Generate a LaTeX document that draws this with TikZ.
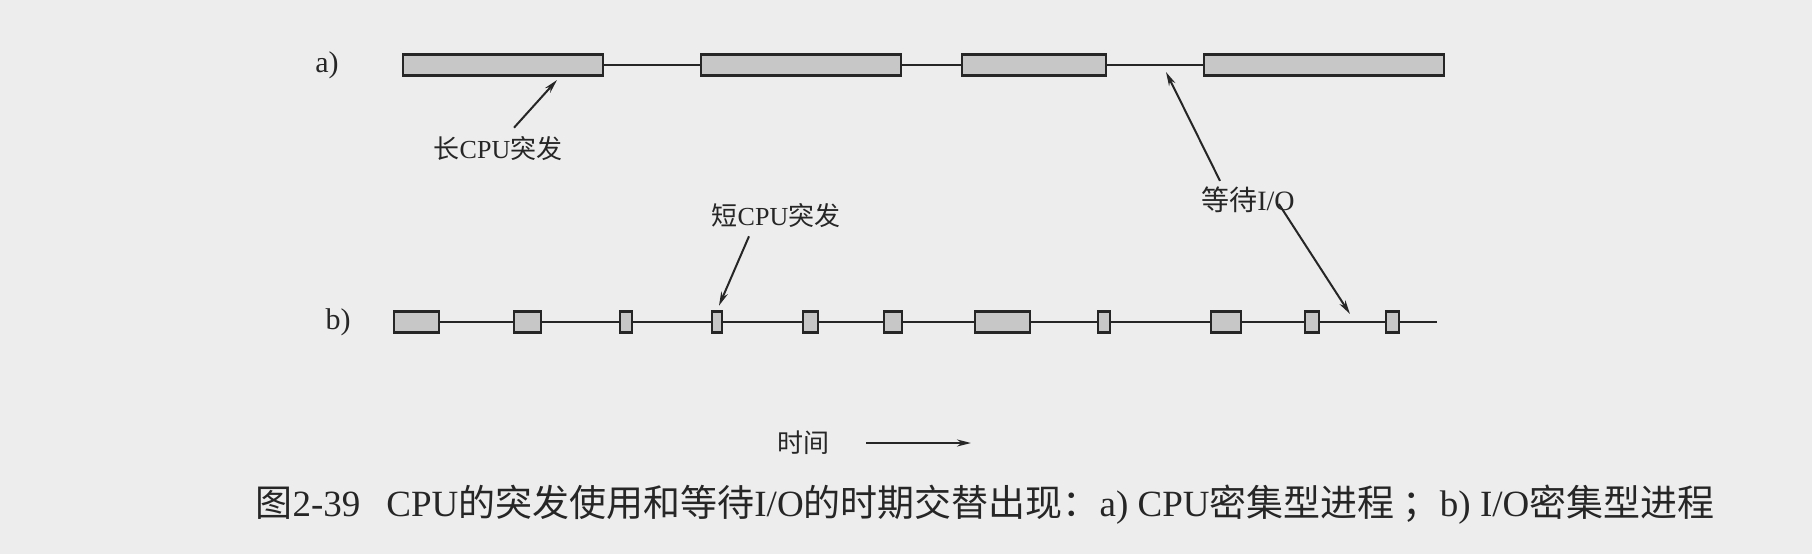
\documentclass[tikz,border=0pt]{standalone}
\usepackage{fontspec}
\setmainfont{Liberation Serif}
\newfontfamily\cjk{Noto Sans CJK SC}
\usetikzlibrary{arrows.meta}
\definecolor{paper}{gray}{0.93}
\definecolor{ink}{gray}{0.15}
\definecolor{burst}{gray}{0.78}

\begin{document}
\begin{tikzpicture}[x=1pt,y=-1pt,
    cpu/.style={draw=ink,fill=burst,line width=2.4pt,minimum height=21pt,inner sep=0pt},
    wire/.style={draw=ink,line width=2pt},
    ptr/.style={draw=ink,line width=2pt,-{Stealth[length=14pt,width=7pt]}},
    lbl/.style={text=ink,font=\fontsize{26}{30}\selectfont,inner sep=0pt}]
    \fill[paper] (0,0) rectangle (1812,554);
    \useasboundingbox (0,0) rectangle (1812,554);
    \node[lbl,font=\fontsize{30}{34}\selectfont] (la) at (327,65) {a)};
    \node[lbl,font=\fontsize{30}{34}\selectfont] (lb) at (338,322) {b)};
    \foreach \n/\l/\r in {1/403/603,2/701/901,3/962/1106,4/1204/1444}
        \node[cpu,minimum width={(\r-\l)*1pt}] (a\n) at ({(\l+\r)/2},65) {};
    \foreach \i/\j in {1/2,2/3,3/4}
        \draw[wire] (a\i) -- (a\j);
    \foreach \n/\l/\r in {1/394/439,2/514/541,3/620/632,4/712/722,5/803/818,6/884/902,
                          7/975/1030,8/1098/1110,9/1211/1241,10/1305/1319,11/1386/1399}
        \node[cpu,minimum width={(\r-\l)*1pt}] (b\n) at ({(\l+\r)/2},322) {};
    \foreach \i [evaluate=\i as \j using int(\i+1)] in {1,...,10}
        \draw[wire] (b\i) -- (b\j);
    \coordinate (bend) at (1437,322);
    \draw[wire] (b11) -- (bend);
    \node[lbl] (long) at (498,149) {{\cjk 长}CPU{\cjk 突发}};
    \node[lbl] (short) at (776,216) {{\cjk 短}CPU{\cjk 突发}};
    \node[lbl,font=\fontsize{28}{32}\selectfont] (wait) at (1248,200) {{\cjk 等待}I/O};
    \node[lbl] (time) at (803,443) {\cjk 时间};
    \coordinate (longtip) at (557,80);
    \coordinate (waita) at (1166,72);
    \coordinate (waitb) at (1350,314);
    \coordinate (timeend) at (971,443);
    \draw[ptr] ([xshift=16pt,yshift=9pt]long.north) -- (longtip);
    \draw[ptr,shorten >=5pt] ([xshift=-27pt,yshift=-8pt]short.south) -- (b4.north);
    \draw[ptr] ([xshift=-28pt,yshift=6pt]wait.north) -- (waita);
    \draw[ptr] ([xshift=-16pt,yshift=-4pt]wait.east) -- (waitb);
    \draw[ptr] ([xshift=37pt]time.east) -- (timeend);
    \node[lbl,font=\fontsize{37}{41}\selectfont] (cap) at (985,505)
        {{\cjk 图}2-39\hspace{26pt}CPU{\cjk 的突发使用和等待}I/O{\cjk 的时期交替出现：}a) CPU{\cjk 密集型进程 ；}b) I/O{\cjk 密集型进程}};
\end{tikzpicture}
\end{document}
